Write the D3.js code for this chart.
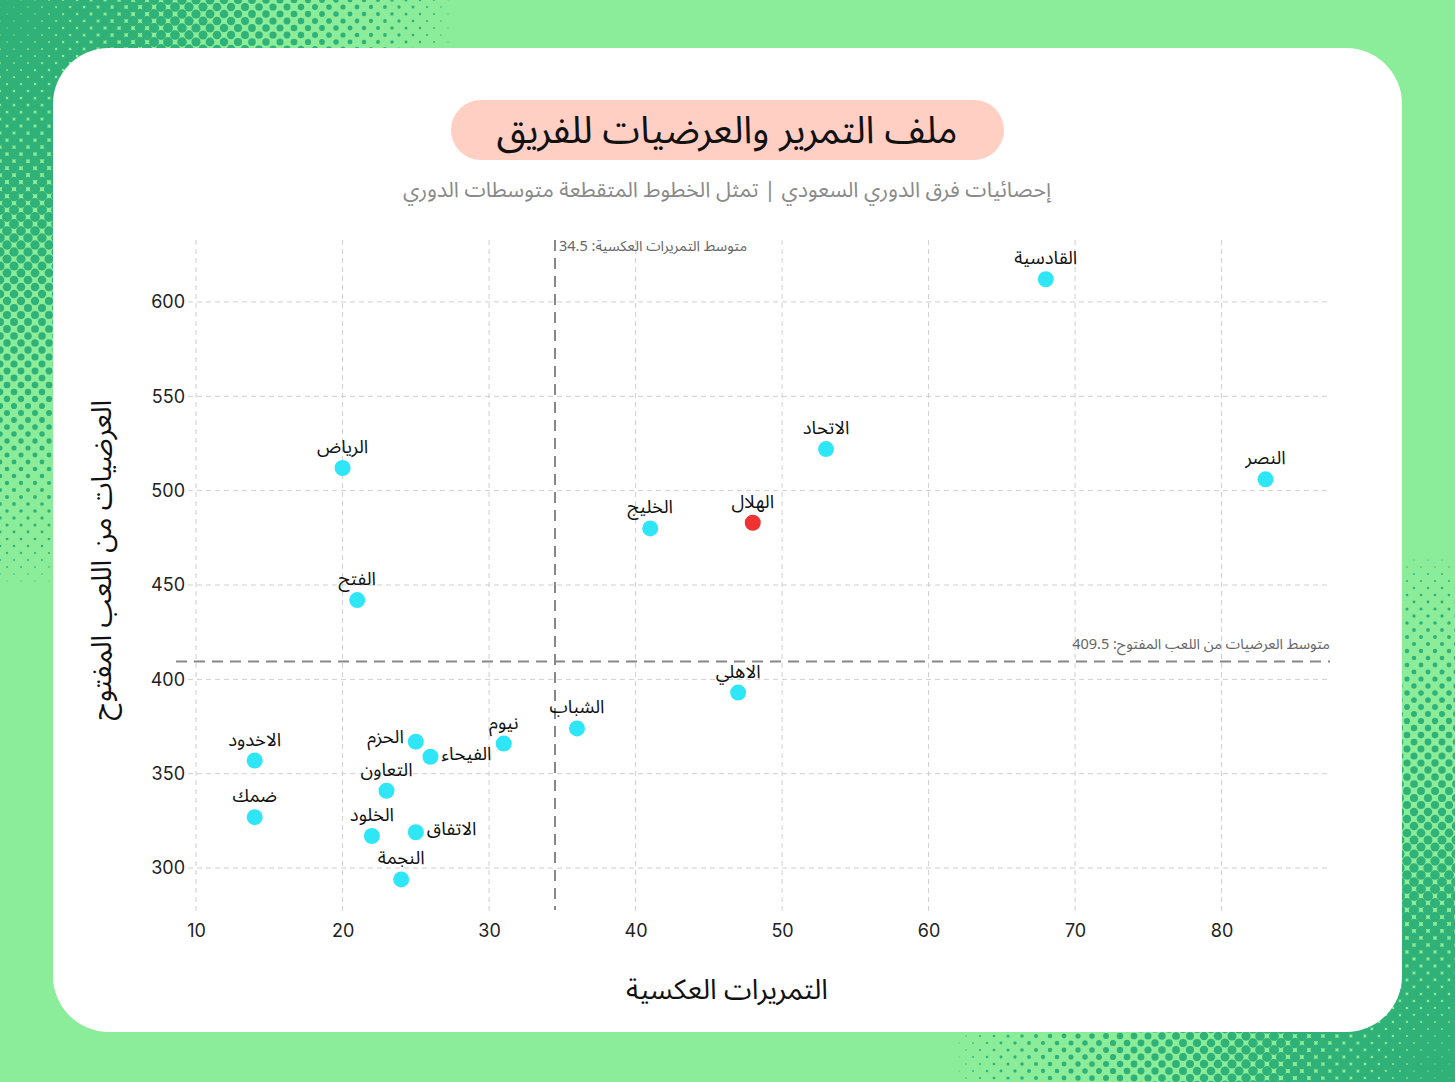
<!DOCTYPE html>
<meta charset="utf-8">
<script src="https://d3js.org/d3.v7.min.js"></script>
<style>
  body { margin: 0; background: #8bed99; }
  svg { display: block; }
</style>
<div id="chart"></div>
<script>

// team data
var teams = ["القادسية", "الاتحاد", "النصر", "الهلال", "الخليج", "الرياض", "الفتح", "الاهلي", "الشباب",
             "نيوم", "الحزم", "الفيحاء", "التعاون", "الاخدود", "ضمك", "الخلود", "الاتفاق", "النجمة"];
var throughPasses = [68, 53, 83, 48, 41, 20, 21, 47, 36, 31, 25, 26, 23, 14, 14, 22, 25, 24];
var openPlayCrosses = [612, 522, 506, 483, 480, 512, 442, 393, 374, 366, 367, 359, 341, 357, 327, 317, 319, 294];
var highlightTeam = "الهلال";

var xTicks = [10, 20, 30, 40, 50, 60, 70, 80];
var yTicks = [300, 350, 400, 450, 500, 550, 600];

var titleText = "ملف التمرير والعرضيات للفريق";
var subtitleText = "إحصائيات فرق الدوري السعودي | تمثل الخطوط المتقطعة متوسطات الدوري";
var xTitle = "التمريرات العكسية";
var yTitle = "العرضيات من اللعب المفتوح";

var W = 1455, H = 1082;
var arabic = "'Noto Sans Arabic', 'Noto Sans', 'DejaVu Sans', sans-serif";
var latin = "Inter, 'Noto Sans', sans-serif";

var data = teams.map(function(t, i) {
  return { team: t, x: throughPasses[i], y: openPlayCrosses[i] };
});

var svg = d3.select("#chart").append("svg")
  .attr("width", W)
  .attr("height", H);

svg.append("rect").attr("width", W).attr("height", H).attr("fill", "#8bed99");

// halftone corners
function halftone(cx, cy, rx, ry, maxR) {
  var h = 7, pts = [];
  var x0 = Math.max(0, cx - rx), x1 = Math.min(W, cx + rx);
  var y0 = Math.max(0, cy - ry), y1 = Math.min(H, cy + ry);
  for (var m = Math.floor(x0 / h); m <= Math.ceil(x1 / h); m++) {
    for (var n = Math.floor(y0 / h); n <= Math.ceil(y1 / h); n++) {
      if ((m + n) % 2 !== 0) continue;
      var px = m * h, py = n * h;
      var d = Math.sqrt(Math.pow((px - cx) / rx, 2) + Math.pow((py - cy) / ry, 2));
      if (d >= 1) continue;
      var r = maxR * Math.pow(1 - d, 0.7);
      if (r > 0.45) pts.push([px, py, r]);
    }
  }
  svg.append("g").selectAll("circle")
    .data(pts)
    .enter().append("circle")
      .attr("cx", function(d) { return d[0]; })
      .attr("cy", function(d) { return d[1]; })
      .attr("r", function(d) { return d[2]; })
      .attr("fill", "#30b178");
}
halftone(0, 0, 460, 600, 6.8);
halftone(W, H, 510, 540, 6.8);

// card
svg.append("rect")
  .attr("x", 53).attr("y", 48)
  .attr("width", 1349).attr("height", 984)
  .attr("rx", 56)
  .attr("fill", "#ffffff");

// title pill
svg.append("rect")
  .attr("x", 451).attr("y", 100)
  .attr("width", 553).attr("height", 60)
  .attr("rx", 30)
  .attr("fill", "#ffcfc3");

svg.append("text")
  .attr("x", 727).attr("y", 143)
  .attr("text-anchor", "middle")
  .style("font-family", arabic)
  .style("font-size", "38px")
  .attr("fill", "#111")
  .text(titleText);

svg.append("text")
  .attr("x", 727).attr("y", 197)
  .attr("text-anchor", "middle")
  .style("font-family", arabic)
  .style("font-size", "21.5px")
  .attr("fill", "#8a8a8a")
  .text(subtitleText);

// scales
var x = d3.scaleLinear().domain([8.63, 87.4]).range([176, 1330]);
var y = d3.scaleLinear().domain([277.8, 632.8]).range([910, 240]);

var meanX = d3.mean(throughPasses);
var meanY = d3.mean(openPlayCrosses);

// grid
var grid = svg.append("g")
  .attr("stroke", "#cfcfcf")
  .attr("stroke-width", 1)
  .attr("stroke-dasharray", "5,4");

grid.selectAll(".vgrid")
  .data(xTicks)
  .enter().append("line")
    .attr("x1", function(d) { return x(d); })
    .attr("x2", function(d) { return x(d); })
    .attr("y1", 240).attr("y2", 913);

grid.selectAll(".hgrid")
  .data(yTicks)
  .enter().append("line")
    .attr("x1", 188).attr("x2", 1330)
    .attr("y1", function(d) { return y(d); })
    .attr("y2", function(d) { return y(d); });

// axes (labels only)
var xAxis = svg.append("g")
  .attr("transform", "translate(0,910)")
  .call(d3.axisBottom(x).tickValues(xTicks).tickSize(0).tickPadding(14));
var yAxis = svg.append("g")
  .attr("transform", "translate(185,0)")
  .call(d3.axisLeft(y).tickValues(yTicks).tickSize(0).tickPadding(0));

[xAxis, yAxis].forEach(function(a) {
  a.select(".domain").remove();
  a.selectAll("text")
    .style("font-family", latin)
    .style("font-size", "18px")
    .attr("fill", "#222");
});

// mean lines
svg.append("line")
  .attr("x1", x(meanX)).attr("x2", x(meanX))
  .attr("y1", 240).attr("y2", 910)
  .attr("stroke", "#888")
  .attr("stroke-width", 2)
  .attr("stroke-dasharray", "11,7");

svg.append("line")
  .attr("x1", 176).attr("x2", 1330)
  .attr("y1", y(meanY)).attr("y2", y(meanY))
  .attr("stroke", "#888")
  .attr("stroke-width", 2)
  .attr("stroke-dasharray", "11,7");

svg.append("text")
  .attr("x", x(meanX) + 4).attr("y", 251)
  .attr("direction", "rtl")
  .attr("text-anchor", "end")
  .style("font-family", arabic)
  .style("font-size", "14.5px")
  .attr("fill", "#666")
  .text("متوسط التمريرات العكسية: " + d3.format(".1f")(meanX));

svg.append("text")
  .attr("x", 1330).attr("y", y(meanY) - 12)
  .attr("direction", "rtl")
  .attr("text-anchor", "start")
  .style("font-family", arabic)
  .style("font-size", "14.5px")
  .attr("fill", "#666")
  .text("متوسط العرضيات من اللعب المفتوح: " + d3.format(".1f")(meanY));

// points
svg.append("g").selectAll("circle")
  .data(data)
  .enter().append("circle")
    .attr("cx", function(d) { return x(d.x); })
    .attr("cy", function(d) { return y(d.y); })
    .attr("r", 8)
    .attr("fill", function(d) { return d.team === highlightTeam ? "#f03232" : "#2ee6f5"; });

// labels
var side = { "الحزم": "left", "الفيحاء": "right", "الاتفاق": "right" };
svg.append("g").selectAll("text")
  .data(data)
  .enter().append("text")
    .attr("x", function(d) {
      var s = side[d.team];
      if (s === "left") return x(d.x) - 12;
      if (s === "right") return x(d.x) + 11;
      return x(d.x);
    })
    .attr("y", function(d) {
      if (side[d.team] === "left") return y(d.y) + 1;
      return side[d.team] ? y(d.y) + 3 : y(d.y) - 15;
    })
    .attr("text-anchor", function(d) {
      var s = side[d.team];
      return s === "left" ? "end" : s === "right" ? "start" : "middle";
    })
    .style("font-family", arabic)
    .style("font-size", "18.5px")
    .attr("fill", "#111")
    .text(function(d) { return d.team; });

// axis titles
svg.append("text")
  .attr("x", 727).attr("y", 999)
  .attr("text-anchor", "middle")
  .style("font-family", arabic)
  .style("font-size", "28px")
  .attr("fill", "#111")
  .text(xTitle);

svg.append("text")
  .attr("transform", "translate(111,560) rotate(-90)")
  .attr("text-anchor", "middle")
  .style("font-family", arabic)
  .style("font-size", "28px")
  .attr("fill", "#111")
  .text(yTitle);

</script>
